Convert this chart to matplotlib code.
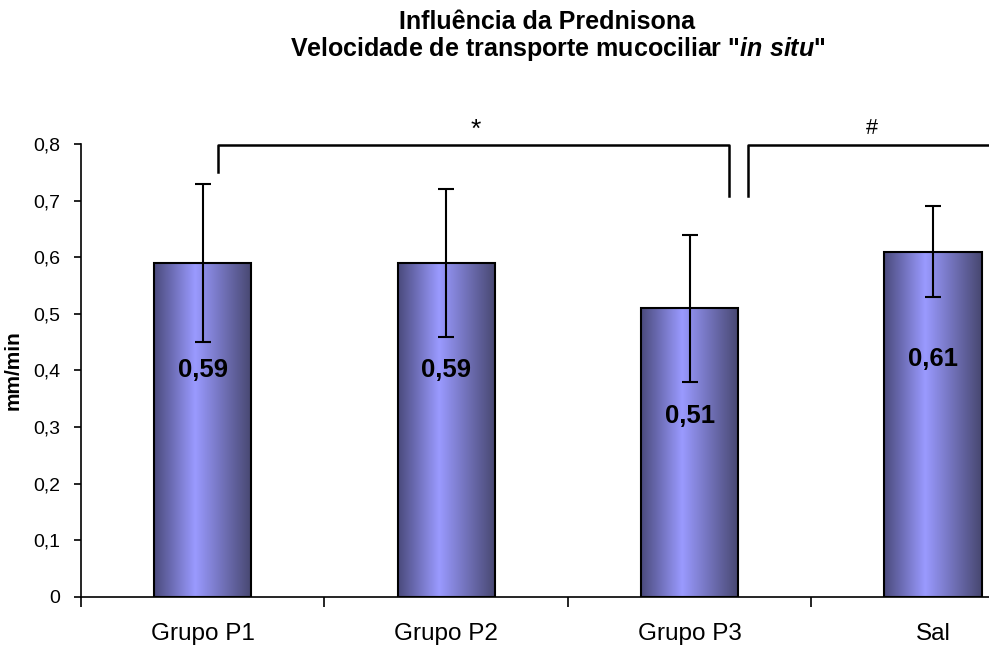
import numpy as np
import matplotlib
matplotlib.use("Agg")
import matplotlib.pyplot as plt
from matplotlib.colors import LinearSegmentedColormap

plt.rcParams.update({
    "font.family": ["Liberation Sans", "DejaVu Sans"],
    "mathtext.fontset": "custom",
    "mathtext.rm": "Liberation Sans:bold",
    "mathtext.it": "Liberation Sans:italic:bold",
    "axes.linewidth": 1.2,
})

# --- data ---
groups = ["Grupo P1", "Grupo P2", "Grupo P3", "Sal"]
means = [0.59, 0.59, 0.51, 0.61]
errors = [0.14, 0.13, 0.13, 0.08]
value_labels = ["0,59", "0,59", "0,51", "0,61"]
yticks = [0.0, 0.1, 0.2, 0.3, 0.4, 0.5, 0.6, 0.7, 0.8]
ytick_labels = ["0", "0,1", "0,2", "0,3", "0,4", "0,5", "0,6", "0,7", "0,8"]

# excel style horizontal gradient (dark edges, light centre)
bar_cmap = LinearSegmentedColormap.from_list(
    "bar", [(0.0, "#4a4a7c"), (0.42, "#9a9aff"), (1.0, "#474770")])

fig = plt.figure(figsize=(9.89, 6.46), dpi=100)
ax = fig.add_axes([0.0819, 0.0759, 0.918, 0.7012])

x = np.arange(len(groups))
width = 0.40
grad = np.linspace(0, 1, 256).reshape(1, -1)

for xi, m in zip(x, means):
    ax.imshow(grad, cmap=bar_cmap, aspect="auto", interpolation="bicubic",
              extent=(xi - width / 2, xi + width / 2, 0, m), zorder=2)
ax.bar(x, means, width=width, facecolor="none", edgecolor="black",
       linewidth=1.5, zorder=3)
ax.errorbar(x, means, yerr=errors, fmt="none", ecolor="black",
            elinewidth=1.5, capsize=6, capthick=1.5, zorder=4)

for xi, m, lab in zip(x, means, value_labels):
    ax.text(xi, m - 0.19, lab, ha="center", va="center",
            fontsize=18.5, fontweight="bold", zorder=5)

ax.set_xlim(-0.5, 3.229)
ax.set_ylim(0, 0.8)

# axes styling
for s in ["top", "right"]:
    ax.spines[s].set_visible(False)
ax.set_yticks(yticks)
ax.set_yticklabels(ytick_labels, fontsize=14)
ax.tick_params(axis="y", direction="out", length=5, width=1.2, pad=10)

ax.set_xticks(np.arange(-0.5, 3.0, 1.0))
ax.set_xticklabels([])
ax.tick_params(axis="x", which="major", direction="out", length=7, width=1.2)
ax.set_xticks(x, minor=True)
ax.set_xticklabels(groups, minor=True, fontsize=17.5)
ax.tick_params(axis="x", which="minor", length=0, pad=19)

ax.set_ylabel("mm/min", fontsize=15, fontweight="bold")
ax.yaxis.set_label_coords(-0.064, 0.5)

# significance brackets
ax.plot([0.063, 0.063, 2.161, 2.161], [0.75, 0.798, 0.798, 0.708],
        color="black", lw=1.8, clip_on=False)
ax.plot([2.239, 2.239, 3.3], [0.708, 0.798, 0.798],
        color="black", lw=1.8, clip_on=False)
ax.text(1.12, 0.812, "*", ha="center", va="baseline", fontsize=19)
ax.text(2.75, 0.818, "#", ha="center", va="baseline", fontsize=15.5)

# title
fig.text(0.553, 0.966, "Influência da Prednisona", ha="center", va="center",
         fontsize=18, fontweight="bold")
fig.text(0.564, 0.924, r'Velocidade de transporte mucociliar "$\mathit{in\ situ}$"',
         ha="center", va="center", fontsize=18, fontweight="bold")

fig.savefig("out.png", dpi=100)
